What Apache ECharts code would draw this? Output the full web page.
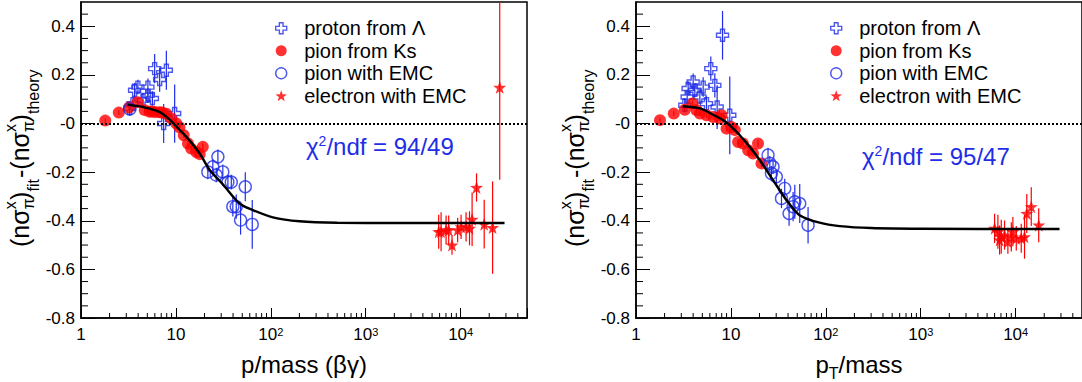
<!DOCTYPE html>
<html>
<head>
<meta charset="utf-8">
<title>n sigma residuals</title>
<script src="https://cdn.jsdelivr.net/npm/echarts@6.0.0/dist/echarts.min.js"></script>
<style>
  html, body { margin: 0; padding: 0; background: #fff; }
  #chart { width: 1082px; height: 382px; }
</style>
</head>
<body>
<div id="chart"></div>
<script>
// every point is [x, y, yError]
const leftProton = [
  [3.26, 0.062, 0.03], [3.53, 0.082, 0.03], [3.67, 0.137, 0.03], [3.98, 0.15, 0.03],
  [4.5, 0.096, 0.03], [5.07, 0.15, 0.035], [5.07, 0.116, 0.03], [5.65, 0.103, 0.03],
  [5.97, 0.226, 0.06], [6.74, 0.181, 0.05], [7.93, 0.219, 0.08], [7.43, 0.0, 0.08],
  [9.7, 0.041, 0.12]
];
const leftKs = [
  [1.8, 0.012, 0.01], [2.5, 0.045, 0.01], [3.2, 0.066, 0.01], [3.95, 0.088, 0.012],
  [4.7, 0.055, 0.01], [5.3, 0.048, 0.01], [5.6, 0.05, 0.01], [6.0, 0.047, 0.01],
  [6.7, 0.046, 0.01], [7.2, 0.045, 0.01], [7.9, 0.04, 0.01], [8.9, 0.022, 0.012],
  [10.1, 0.0, 0.012], [10.9, -0.015, 0.012], [12.1, -0.048, 0.012], [13.4, -0.082, 0.012],
  [14.5, -0.103, 0.012], [16.4, -0.117, 0.015], [17.8, -0.126, 0.015], [19.2, -0.096, 0.015]
];
const leftEmc = [
  [3.26, 0.06, 0.02], [21.7, -0.199, 0.03], [24.5, -0.178, 0.03], [26.6, -0.212, 0.03],
  [27.7, -0.137, 0.03], [31.2, -0.199, 0.03], [35.3, -0.241, 0.03], [38.3, -0.241, 0.03],
  [39.8, -0.342, 0.04], [43.2, -0.342, 0.05], [48, -0.397, 0.06], [53.8, -0.26, 0.06],
  [63.7, -0.415, 0.1]
];
const leftElectron = [
  [5870, -0.445, 0.07], [6220, -0.445, 0.08], [7020, -0.438, 0.06], [7480, -0.438, 0.06],
  [8110, -0.5, 0.04], [9300, -0.438, 0.05], [10100, -0.425, 0.05], [11400, -0.425, 0.06],
  [12400, -0.431, 0.07], [13200, -0.394, 0.11], [14700, -0.263, 0.058], [17700, -0.414, 0.1],
  [21700, -0.428, 0.19], [25800, 0.149, 0.38]
];
const leftFit = [
  [3.1, 0.078], [4.5, 0.068], [6.7, 0.048], [8.6, 0.016], [10.1, -0.012], [12.9, -0.055],
  [17.8, -0.123], [22.6, -0.19], [31.2, -0.25], [46.9, -0.329], [64.6, -0.356],
  [105, -0.386], [200, -0.402], [500, -0.408], [2000, -0.409], [29000, -0.409]
];

const rightProton = [
  [3.27, 0.075, 0.03], [3.46, 0.109, 0.03], [3.54, 0.144, 0.03], [4.0, 0.171, 0.035],
  [4.17, 0.137, 0.03], [4.71, 0.109, 0.03], [5.1, 0.15, 0.04], [5.53, 0.082, 0.03],
  [6.14, 0.226, 0.05], [6.77, 0.157, 0.05], [7.16, 0.068, 0.09], [8.16, 0.363, 0.1],
  [9.73, 0.034, 0.16]
];
const rightKs = [
  [1.79, 0.014, 0.01], [2.5, 0.041, 0.01], [3.27, 0.057, 0.01], [3.94, 0.082, 0.012],
  [4.34, 0.055, 0.01], [4.71, 0.041, 0.01], [5.53, 0.034, 0.01], [6.5, 0.027, 0.01],
  [7.64, 0.021, 0.01], [7.96, 0.034, 0.01], [9.0, -0.021, 0.012], [10.1, -0.014, 0.012],
  [11.0, -0.027, 0.012], [11.9, -0.076, 0.012], [13.4, -0.082, 0.012], [15.2, -0.11, 0.015],
  [17.1, -0.123, 0.015], [19.3, -0.082, 0.015], [21, -0.164, 0.015]
];
const rightEmc = [
  [24.6, -0.13, 0.03], [25.7, -0.164, 0.03], [27.8, -0.178, 0.03], [26.7, -0.205, 0.03],
  [30.1, -0.219, 0.03], [34.1, -0.308, 0.04], [36.9, -0.267, 0.04], [41, -0.37, 0.05],
  [45.2, -0.342, 0.06], [47.1, -0.322, 0.07], [53.1, -0.329, 0.08], [65, -0.418, 0.075]
];
const rightElectron = [
  [6000, -0.431, 0.06], [6500, -0.445, 0.07], [6770, -0.479, 0.06], [7050, -0.466, 0.07],
  [7640, -0.459, 0.06], [8280, -0.486, 0.05], [9000, -0.466, 0.06], [9350, -0.445, 0.06],
  [10150, -0.472, 0.05], [11450, -0.472, 0.06], [12400, -0.466, 0.09], [13100, -0.37, 0.08],
  [14600, -0.342, 0.08], [17500, -0.418, 0.07]
];
const rightFit = [
  [3.1, 0.071], [4.71, 0.062], [6.5, 0.036], [8.28, 0.014], [9.73, -0.007], [12.4, -0.048],
  [15.8, -0.096], [20.2, -0.151], [27.8, -0.233], [35.4, -0.295], [38.5, -0.315],
  [53, -0.377], [86, -0.408], [140, -0.422], [300, -0.43], [1000, -0.433], [29000, -0.434]
];

const xMajorTicks = [1, 10, 100, 1000, 10000];
const xTickLabels = ['{b|1}', '{b|10}', '{b|10}{s|2}', '{b|10}{s|3}', '{b|10}{s|4}'];
const xMinorTicks = [
  2, 3, 4, 5, 6, 7, 8, 9,
  20, 30, 40, 50, 60, 70, 80, 90,
  200, 300, 400, 500, 600, 700, 800, 900,
  2000, 3000, 4000, 5000, 6000, 7000, 8000, 9000,
  20000, 30000, 40000
];
const yMinorTicks = [
  -0.75, -0.7, -0.65, -0.55, -0.5, -0.45, -0.35, -0.3, -0.25, -0.15, -0.1, -0.05,
  0.05, 0.1, 0.15, 0.25, 0.3, 0.35, 0.45
];
const legendNames = ['proton from Λ', 'pion from Ks', 'pion with EMC', 'electron with EMC'];
const chiLeft = '94/49';
const chiRight = '95/47';

const BLUE = '#1f2de8';
const RED = '#ff0000';
const FONT = '"Liberation Sans", Arial, Helvetica, sans-serif';
const X_MIN = 1, X_MAX = 50000, Y_MIN = -0.8, Y_MAX = 0.5;
const CROSS = 'path://M-1,-3L1,-3L1,-1L3,-1L3,1L1,1L1,3L-1,3L-1,1L-3,1L-3,-1L-1,-1Z';
const STAR = 'path://M0,-10L2.35,-3.24L9.51,-3.09L3.8,1.24L5.88,8.09L0,4L-5.88,8.09L-3.8,1.24L-9.51,-3.09L-2.35,-3.24Z';
const HOLLOW = 'rgba(0,0,0,0)';

const styles = [
  { symbol: CROSS, size: 12, item: { color: HOLLOW, borderColor: BLUE, borderWidth: 1.4 }, bar: BLUE },
  { symbol: 'circle', size: 12, item: { color: RED, borderWidth: 0 }, bar: RED },
  { symbol: 'circle', size: 12, item: { color: HOLLOW, borderColor: BLUE, borderWidth: 1.4 }, bar: BLUE },
  { symbol: STAR, size: 13, item: { color: RED, borderWidth: 0 }, bar: RED }
];

function xLabel(v) {
  const i = xMajorTicks.findIndex(t => Math.abs(t - v) / t < 1e-6);
  return i < 0 ? '' : xTickLabels[i];
}
function yLabel(v) {
  if (Math.abs(v) < 1e-9) return '-0';
  if (v > 0.45) return '';
  return v.toFixed(1);
}

function xAxis(gi, name) {
  return {
    type: 'log', logBase: 10, gridIndex: gi, min: X_MIN, max: X_MAX,
    axisLine: { show: true, onZero: false, lineStyle: { color: '#000', width: 1.5 } },
    axisTick: { show: true, inside: true, length: 10, lineStyle: { color: '#000', width: 1 } },
    splitLine: { show: false },
    axisLabel: {
      margin: 8, formatter: xLabel,
      rich: {
        b: { fontSize: 17, lineHeight: 22, verticalAlign: 'top', color: '#000', fontFamily: FONT },
        s: { fontSize: 11, lineHeight: 9, padding: [0, 0, 11, 0], verticalAlign: 'top', color: '#000', fontFamily: FONT }
      }
    },
    name, nameLocation: 'middle', nameGap: 24,
    nameTextStyle: {
      rich: {
        a: { fontSize: 24, lineHeight: 30, verticalAlign: 'top', color: '#000', fontFamily: FONT },
        t: { fontSize: 16, lineHeight: 16, padding: [13, 0, 0, 0], verticalAlign: 'top', color: '#000', fontFamily: FONT }
      }
    }
  };
}
function yAxis(gi) {
  return {
    type: 'value', gridIndex: gi, min: Y_MIN, max: Y_MAX, interval: 0.2,
    axisLine: { show: true, onZero: false, lineStyle: { color: '#000', width: 1.5 } },
    axisTick: { show: true, inside: true, length: 14, lineStyle: { color: '#000', width: 1 } },
    splitLine: { show: false },
    axisLabel: { color: '#000', fontSize: 17, fontFamily: FONT, margin: 6, showMaxLabel: false, formatter: yLabel }
  };
}

function tickSeries(gi, data, dx, dy) {
  return {
    type: 'custom', xAxisIndex: gi, yAxisIndex: gi, silent: true, z: 5,
    data, encode: { x: 0, y: 1 },
    renderItem: (p, api) => {
      const c = api.coord([api.value(0), api.value(1)]);
      return { type: 'line', shape: { x1: c[0], y1: c[1], x2: c[0] + dx, y2: c[1] + dy },
        style: { stroke: '#000', lineWidth: 1 } };
    }
  };
}
function errorBars(gi, data, color) {
  return {
    type: 'custom', xAxisIndex: gi, yAxisIndex: gi, silent: true, clip: true, z: 2,
    data, encode: { x: 0, y: 1 },
    renderItem: (p, api) => {
      const x = api.value(0), y = api.value(1), e = api.value(2);
      const lo = api.coord([x, y - e]);
      const hi = api.coord([x, y + e]);
      return { type: 'line', shape: { x1: lo[0], y1: lo[1], x2: hi[0], y2: hi[1] },
        style: { stroke: color, lineWidth: 1.2 } };
    }
  };
}

function panelSeries(gi, sets, fit) {
  const out = [
    {
      type: 'line', xAxisIndex: gi, yAxisIndex: gi, data: [], silent: true, z: 1,
      markLine: {
        silent: true, symbol: 'none', animation: false, label: { show: false },
        lineStyle: { color: '#000', type: [2, 2], width: 2 },
        data: [{ yAxis: 0 }]
      }
    },
    tickSeries(gi, xMinorTicks.map(v => [v, Y_MIN]), 0, -5),
    tickSeries(gi, yMinorTicks.map(v => [X_MIN, v]), 7, 0)
  ];
  sets.forEach((data, k) => {
    out.push(errorBars(gi, data, styles[k].bar));
    out.push({
      type: 'scatter', name: legendNames[k], xAxisIndex: gi, yAxisIndex: gi, silent: true, z: 3,
      data, symbol: styles[k].symbol, symbolSize: styles[k].size, itemStyle: styles[k].item
    });
  });
  out.push({
    type: 'line', xAxisIndex: gi, yAxisIndex: gi, data: fit, smooth: 0.3, showSymbol: false,
    silent: true, z: 4, lineStyle: { color: '#000', width: 2.4 }
  });
  return out;
}

function legend(left) {
  return {
    left, top: 12, orient: 'vertical', itemGap: 0, itemWidth: 36, itemHeight: 11,
    selectedMode: false, symbolKeepAspect: true,
    textStyle: { color: '#000', fontSize: 20, lineHeight: 22.5, fontFamily: FONT },
    data: legendNames.map((name, k) => ({ name, icon: styles[k].symbol, itemStyle: styles[k].item }))
  };
}

// rotated y title: (nσ^x_π)_fit -(nσ^x_π)_theory
function yTitle(x) {
  const pieces = [
    [0, 0, '(nσ', 25], [37.7, -10, 'x', 16], [37.7, 8, 'π', 16], [47, 0, ')', 25],
    [55.5, 13, 'fit', 16], [69, 0, '-(nσ', 25], [115, -10, 'x', 16], [115, 8, 'π', 16],
    [124.5, 0, ')', 25], [133, 13, 'theory', 16]
  ];
  return {
    type: 'group', x, y: 247, rotation: Math.PI / 2, silent: true,
    children: pieces.map(p => ({
      type: 'text', x: p[0], y: p[1],
      style: { text: p[2], font: p[3] + 'px ' + FONT, fill: '#000', textAlign: 'left', textVerticalAlign: 'middle' }
    }))
  };
}
function chiText(x, y, value) {
  return {
    type: 'text', x, y, silent: true,
    style: {
      text: '{c|χ}{s|2}{c|/ndf = ' + value + '}', textVerticalAlign: 'middle',
      rich: {
        c: { fontSize: 24, lineHeight: 28, verticalAlign: 'top', fill: BLUE, fontFamily: FONT },
        s: { fontSize: 14, lineHeight: 12, padding: [0, 0, 13, 0], verticalAlign: 'top', fill: BLUE, fontFamily: FONT }
      }
    }
  };
}

const chart = echarts.init(document.getElementById('chart'), null, { renderer: 'svg' });
chart.setOption({
  animation: false,
  backgroundColor: '#fff',
  textStyle: { fontFamily: FONT },
  grid: [
    { left: 81, top: 2, width: 446, height: 316, show: true, borderColor: '#000', borderWidth: 1.5, backgroundColor: 'transparent', outerBoundsMode: 'none' },
    { left: 636, top: 2, width: 446, height: 316, show: true, borderColor: '#000', borderWidth: 1.5, backgroundColor: 'transparent', outerBoundsMode: 'none' }
  ],
  xAxis: [xAxis(0, '{a|p/mass (βγ)}'), xAxis(1, '{a|p}{t|T}{a|/mass}')],
  yAxis: [yAxis(0), yAxis(1)],
  legend: [legend(270), legend(825)],
  graphic: [yTitle(20), yTitle(575), chiText(306, 148, chiLeft), chiText(862, 158, chiRight)],
  series: [
    ...panelSeries(0, [leftProton, leftKs, leftEmc, leftElectron], leftFit),
    ...panelSeries(1, [rightProton, rightKs, rightEmc, rightElectron], rightFit)
  ]
});
</script>
</body>
</html>
